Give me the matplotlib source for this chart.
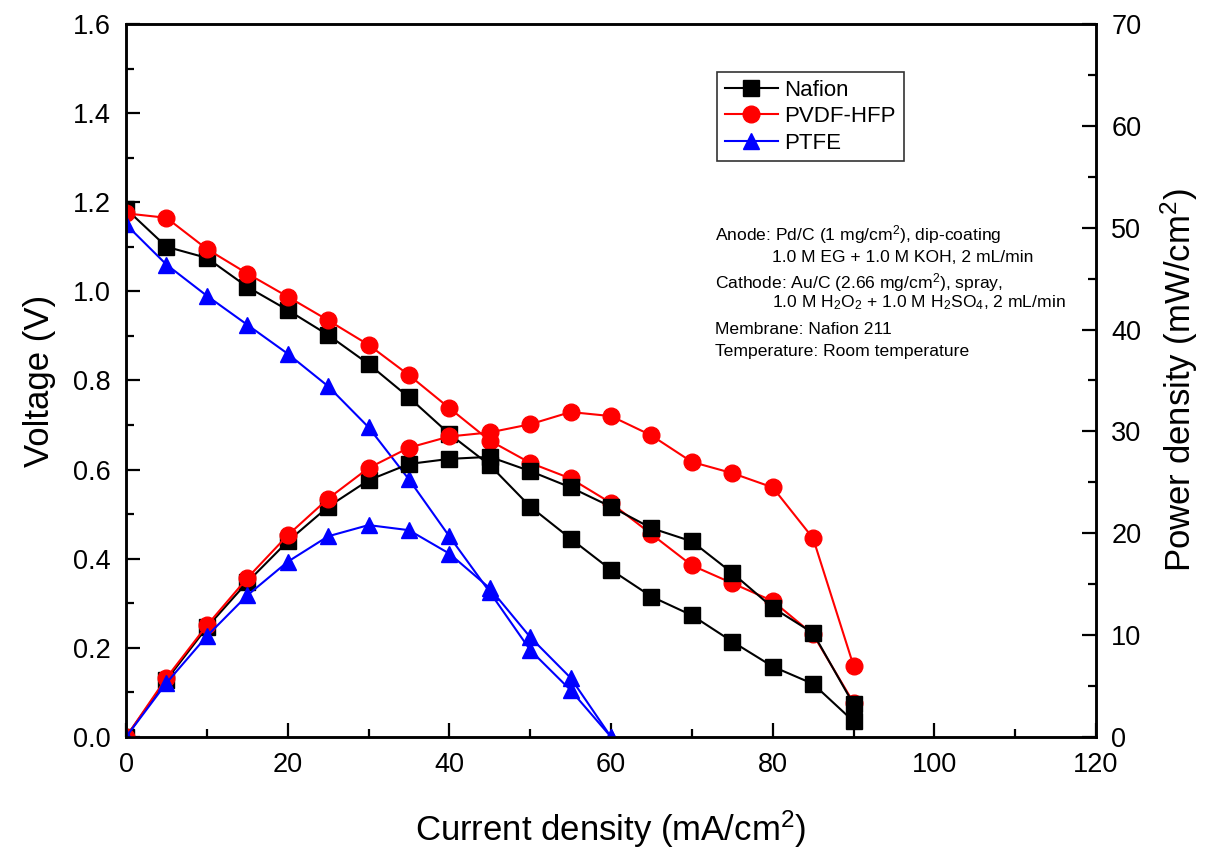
import matplotlib
matplotlib.use("Agg")
import matplotlib.pyplot as plt
from matplotlib.ticker import MultipleLocator

plt.rcParams['font.family'] = ['Liberation Sans', 'DejaVu Sans']
plt.rcParams['mathtext.fontset'] = 'custom'
plt.rcParams['mathtext.rm'] = 'Liberation Sans'
plt.rcParams['mathtext.it'] = 'Liberation Sans'
plt.rcParams['mathtext.default'] = 'regular'

# current density (mA/cm2)
current = [0, 5, 10, 15, 20, 25, 30, 35, 40, 45, 50, 55, 60, 65, 70, 75, 80, 85, 90]
current_ptfe = [0, 5, 10, 15, 20, 25, 30, 35, 40, 45, 50, 55, 60]

# voltage (V)
v_nafion = [1.185, 1.10, 1.075, 1.01, 0.958, 0.902, 0.837, 0.762, 0.68, 0.61, 0.517,
            0.445, 0.375, 0.315, 0.273, 0.214, 0.158, 0.119, 0.035]
v_pvdf = [1.175, 1.165, 1.095, 1.04, 0.988, 0.935, 0.88, 0.812, 0.738, 0.665, 0.615,
          0.58, 0.525, 0.455, 0.385, 0.345, 0.305, 0.23, 0.077]
v_ptfe = [1.15, 1.06, 0.99, 0.925, 0.86, 0.787, 0.695, 0.578, 0.45, 0.325, 0.195, 0.105, 0.0]

# power density (mW/cm2)
p_nafion = [0, 5.6, 10.75, 15.2, 19.2, 22.6, 25.2, 26.8, 27.3, 27.5, 26.1, 24.5, 22.6,
            20.5, 19.2, 16.1, 12.7, 10.2, 3.2]
p_pvdf = [0, 5.8, 10.95, 15.6, 19.8, 23.4, 26.4, 28.4, 29.5, 29.9, 30.7, 31.9, 31.5,
          29.6, 27.0, 25.9, 24.5, 19.5, 7.0]
p_ptfe = [0, 5.3, 9.9, 13.9, 17.2, 19.7, 20.8, 20.3, 18.0, 14.6, 9.8, 5.8, 0]

fig = plt.figure(figsize=(12.12, 8.5), dpi=100)
ax = fig.add_axes([0.104, 0.133, 0.8003, 0.8388])
ax2 = ax.twinx()

lw = 1.5
ms = 11
ax.plot(current, v_nafion, '-s', color='black', lw=lw, ms=ms, label='Nafion')
ax.plot(current, v_pvdf, '-o', color='red', lw=lw, ms=ms + 1, label='PVDF-HFP')
ax.plot(current_ptfe, v_ptfe, '-^', color='blue', lw=lw, ms=ms, label='PTFE')
ax2.plot(current, p_nafion, '-s', color='black', lw=lw, ms=ms)
ax2.plot(current, p_pvdf, '-o', color='red', lw=lw, ms=ms + 1)
ax2.plot(current_ptfe, p_ptfe, '-^', color='blue', lw=lw, ms=ms)

ax.set_xlim(0, 120)
ax.set_ylim(0, 1.6)
ax2.set_ylim(0, 70)

ax.xaxis.set_major_locator(MultipleLocator(20))
ax.xaxis.set_minor_locator(MultipleLocator(10))
ax.yaxis.set_major_locator(MultipleLocator(0.2))
ax.yaxis.set_minor_locator(MultipleLocator(0.1))
ax2.yaxis.set_major_locator(MultipleLocator(10))
ax2.yaxis.set_minor_locator(MultipleLocator(5))
ax.yaxis.set_major_formatter(matplotlib.ticker.FormatStrFormatter('%.1f'))

for a in (ax, ax2):
    for s in a.spines.values():
        s.set_linewidth(1.8)
    a.tick_params(which='major', direction='in', length=10, width=1.6, labelsize=19.5, pad=11)
    a.tick_params(which='minor', direction='in', length=6, width=1.6)

ax.set_xlabel('Current density (mA/cm$^2$)', fontsize=25, labelpad=22)
ax.set_ylabel('Voltage (V)', fontsize=25, labelpad=12)
ax2.set_ylabel('Power density (mW/cm$^2$)', fontsize=25, labelpad=12)

leg = ax.legend(loc='upper left', bbox_to_anchor=(0.609, 0.933), fontsize=16,
                frameon=True, fancybox=False, edgecolor='black', handlelength=2.4,
                borderpad=0.35, labelspacing=0.25, handletextpad=0.3, borderaxespad=0)
leg.get_frame().set_linewidth(1.2)

notes = [
    (0.607, 'Anode: Pd/C (1 mg/cm$^2$), dip-coating'),
    (0.666, '1.0 M EG + 1.0 M KOH, 2 mL/min'),
    (0.607, 'Cathode: Au/C (2.66 mg/cm$^2$), spray,'),
    (0.666, '1.0 M H$_2$O$_2$ + 1.0 M H$_2$SO$_4$, 2 mL/min'),
    (0.607, 'Membrane: Nafion 211'),
    (0.607, 'Temperature: Room temperature'),
]
ys = [0.704, 0.673, 0.638, 0.609, 0.571, 0.540]
for (x, t), y in zip(notes, ys):
    ax.text(x, y, t, transform=ax.transAxes, fontsize=12.6, va='center', ha='left')

fig.savefig('out.png', dpi=100)
